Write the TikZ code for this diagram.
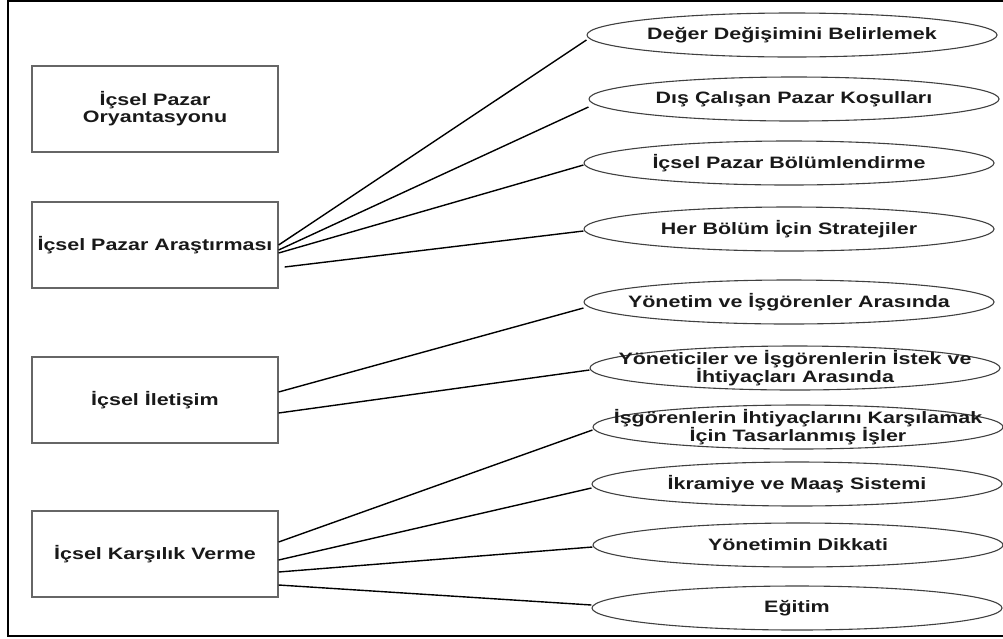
\documentclass[tikz,border=0pt]{standalone}
\usepackage{fontspec}
\setmainfont[FakeStretch=1.3]{Liberation Sans}
\usetikzlibrary{shapes.geometric}

\begin{document}
\begin{tikzpicture}[
    x=1pt, y=-1pt,
    font=\fontsize{16.5}{17}\selectfont\bfseries,
    areabox/.style={rectangle, draw=black!60, line width=1.2pt, minimum width=246pt, minimum height=86pt, align=center, inner sep=2pt, text=black!90},
    oval/.style={ellipse, draw=black!75, line width=1.1pt, minimum width=410pt, minimum height=44pt, inner sep=0pt},
    ovaltext/.style={align=center, inner sep=0pt, text=black!90},
    link/.style={draw=black, line width=1.4pt},
    frame/.style={draw=black, line width=2.5pt}
]

% --- CANVAS ---
\clip (0,0) rectangle (1003,638);
\draw [frame] (8,1) rectangle (1015,636);

% --- LEFT BOXES ---
\node (orient) [areabox] at (155,109) {İçsel Pazar\\Oryantasyonu};
\node (research) [areabox] at (155,245) {İçsel Pazar Araştırması};
\node (comm) [areabox] at (155,400) {İçsel İletişim};
\node (response) [areabox] at (155,554) {İçsel Karşılık Verme};

% --- RIGHT OVALS ---
\node (value) [oval, label={[ovaltext]center:Değer Değişimini Belirlemek}] at (792,35) {};
\node (outside) [oval, label={[ovaltext]center:Dış Çalışan Pazar Koşulları}] at (794,99) {};
\node (segment) [oval, label={[ovaltext]center:İçsel Pazar Bölümlendirme}] at (789,163) {};
\node (strategy) [oval, label={[ovaltext]center:Her Bölüm İçin Stratejiler}] at (789,229) {};
\node (mgmt) [oval, label={[ovaltext]center:Yönetim ve İşgörenler Arasında}] at (789,302) {};
\node (needs) [oval, label={[ovaltext]center:{Yöneticiler ve İşgörenlerin İstek ve\\İhtiyaçları Arasında}}] at (795,368) {};
\node (jobs) [oval, label={[ovaltext]center:{İşgörenlerin İhtiyaçlarını Karşılamak\\İçin Tasarlanmış İşler}}] at (798,427) {};
\node (bonus) [oval, label={[ovaltext]center:İkramiye ve Maaş Sistemi}] at (797,484) {};
\node (care) [oval, label={[ovaltext]center:Yönetimin Dikkati}] at (798,545) {};
\node (training) [oval, label={[ovaltext]center:Eğitim}] at (797,608) {};

% --- CONNECTIONS ---

% research -> 4 ovals
\draw [link] (research.east) -- ([yshift=-5pt]value.west);
\draw [link] ([yshift=-5pt]research.east) -- ([yshift=-8pt]outside.west);
\draw [link] ([yshift=-8pt]research.east) -- ([yshift=-2pt]segment.west);
\draw [link] ([xshift=6pt, yshift=-22pt]research.east) -- ([yshift=-2pt]strategy.west);

% communication -> 2 ovals
\draw [link] ([yshift=8pt]comm.east) -- ([yshift=-6pt]mgmt.west);
\draw [link] ([yshift=-13pt]comm.east) -- ([yshift=-2pt]needs.west);

% response -> 4 ovals
\draw [link] ([yshift=12pt]response.east) -- ([yshift=-3pt]jobs.west);
\draw [link] ([yshift=-6pt]response.east) -- ([yshift=-4pt]bonus.west);
\draw [link] ([yshift=-18pt]response.east) -- ([yshift=-2pt]care.west);
\draw [link] ([yshift=-31pt]response.east) -- ([yshift=3pt]training.west);

\end{tikzpicture}
\end{document}
